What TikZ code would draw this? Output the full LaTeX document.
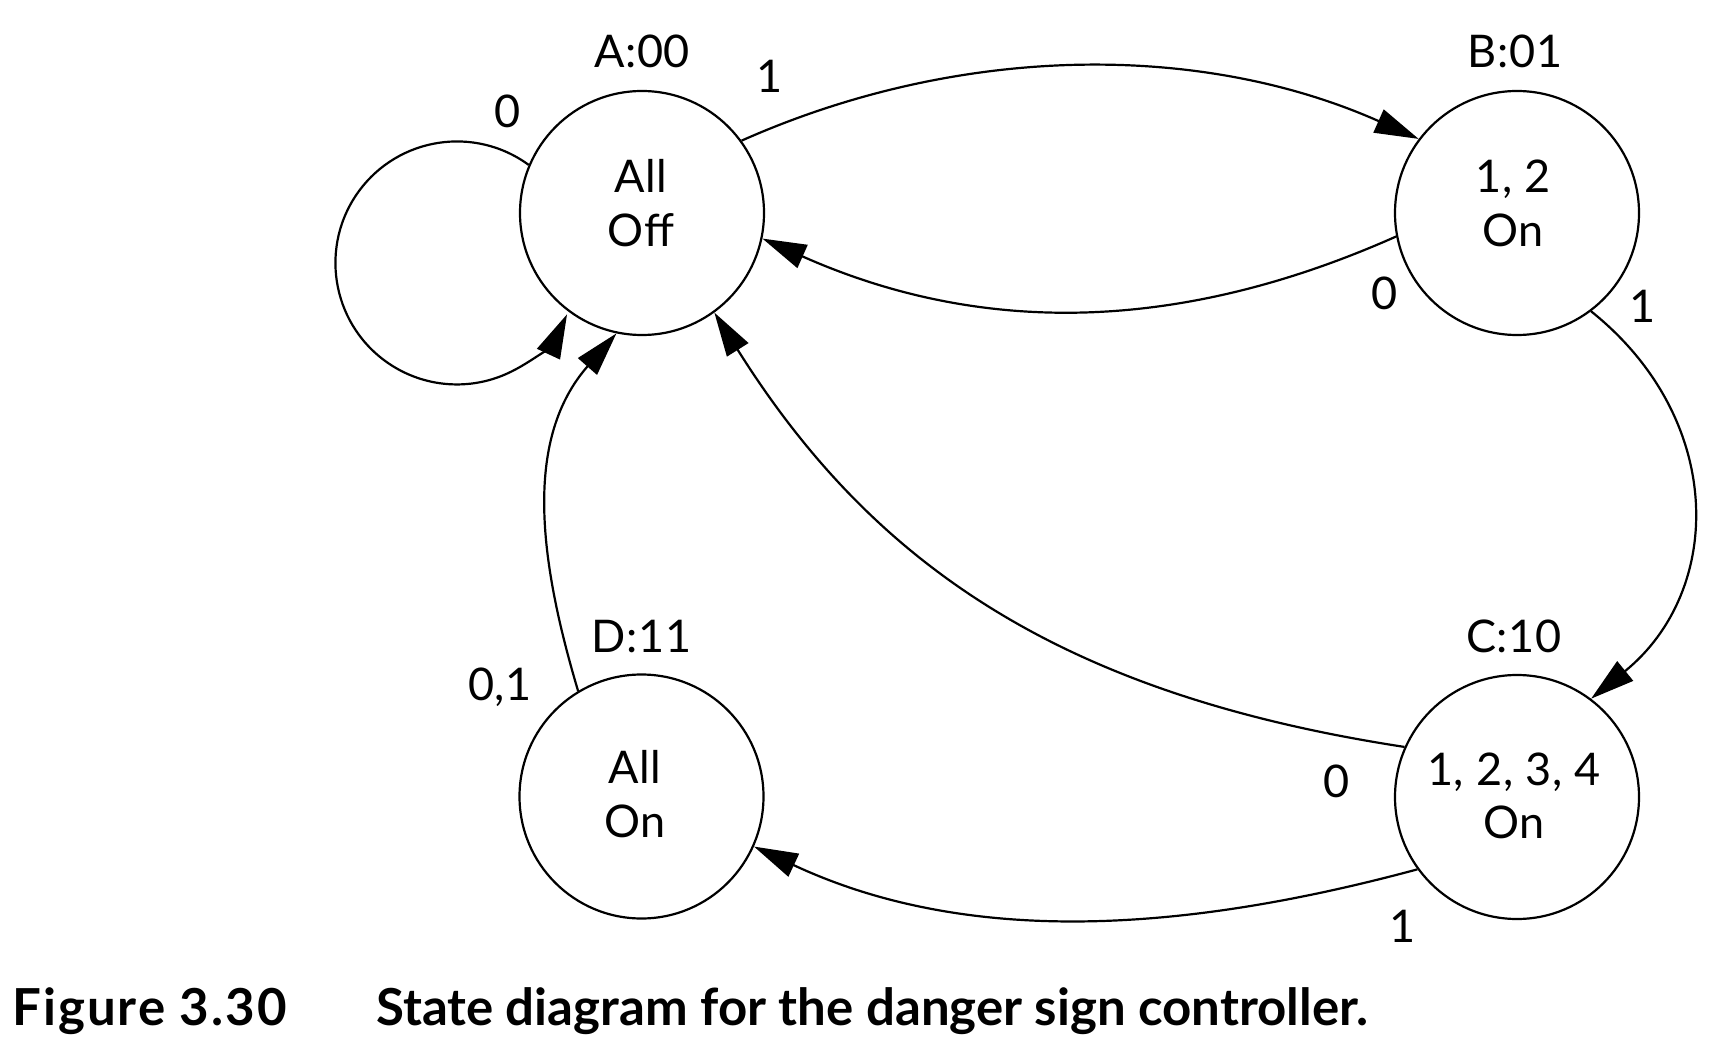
\documentclass[tikz,border=0pt]{standalone}
\usepackage{fontspec}
\setmainfont{Lato}
\usetikzlibrary{arrows.meta}
\begin{document}
\begin{tikzpicture}[x=1pt,y=1pt,
  state/.style={circle,draw,line width=2.2pt,minimum size=244pt,inner sep=0pt},
  txt/.style={inner sep=0pt,anchor=base,font=\fontsize{45}{53}\selectfont\addfontfeature{LetterSpace=1.5}},
  arr/.style={line width=2.2pt,-{Triangle[length=44pt,width=25pt]}},
  captxt/.style={inner sep=0pt,anchor=base west,font=\fontsize{51}{56}\selectfont\bfseries}]
\useasboundingbox (0,0) rectangle (1722,-1048);
% states
\node[state] (A) at (642,-213) {};
\node[state] (B) at (1517,-213) {};
\node[state] (C) at (1517,-797) {};
\node[state] (D) at (641.5,-796.5) {};
% state names
\node[txt] (lA) at (642,-68) {A:00};
\node[txt] (lB) at (1515,-68) {B:01};
\node[txt] (lC) at (1514,-652) {C:10};
\node[txt] (lD) at (641.5,-652) {D:11};
% state contents
\node[txt] (A1) at (641,-193) {All};
\node[txt] (A2) at (641,-247) {Off};
\node[txt] (B1) at (1513,-193) {1, 2};
\node[txt] (B2) at (1513,-247) {On};
\node[txt] (C1) at (1514,-785) {1, 2, 3, 4};
\node[txt] (C2) at (1514,-838) {On};
\node[txt] (D1) at (635,-783) {All};
\node[txt] (D2) at (635,-837) {On};
% transitions
\draw[arr] (A.157) arc[start angle=53.8, end angle=335, radius=121.5pt];
\draw[arr] (A.36.4) .. controls +(218,97) and +(-218,97) .. (B.143.9);
\draw[arr] (B.191.2) .. controls +(-218,-97) and +(218,-97) .. (A.348.3);
\draw[arr] (B.307) .. controls +(135,-108) and +(133,108) .. (C.53.1);
\draw[arr] (C.156) .. controls +(-340,52) and +(160,-255) .. (A.306.4);
\draw[arr] (C.216.2) .. controls +(-230,-62) and +(216,-101) .. (D.336.9);
\draw[arr] (D.121.2) .. controls +(-40,134) and +(-92,-105) .. (A.258.4);
% transition labels
\node[txt] (e1) at (770,-93) {1};
\node[txt] (e2) at (508,-128) {0};
\node[txt] (e3) at (1385,-310) {0};
\node[txt] (e4) at (1643,-323) {1};
\node[txt] (e5) at (500,-700) {0,1};
\node[txt] (e6) at (1337,-797) {0};
\node[txt] (e7) at (1403,-942) {1};
% caption
\node[captxt,font=\fontsize{51}{56}\selectfont\bfseries\addfontfeature{LetterSpace=4}] (cap1) at (12,-1025) {Figure 3.30};
\node[captxt] (cap2) at (376,-1025) {State diagram for the danger sign controller.};
\end{tikzpicture}
\end{document}
